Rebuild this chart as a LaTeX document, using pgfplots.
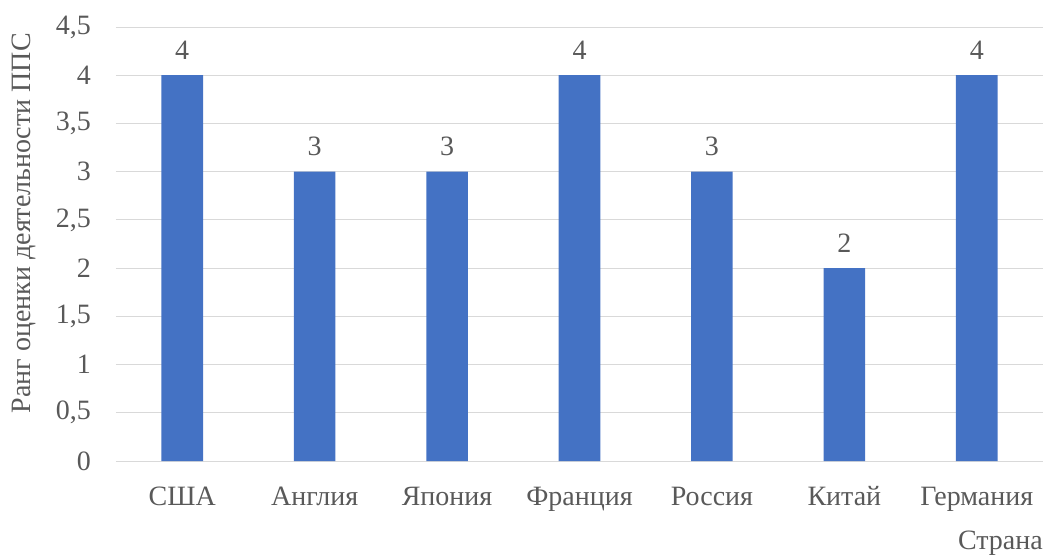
\documentclass[border=0pt]{standalone}
\usepackage{fontspec}
\setmainfont{Liberation Serif}
\usepackage{pgfplots}
\pgfplotsset{compat=1.18}
\definecolor{barblue}{HTML}{4472C4}
\definecolor{gridgray}{HTML}{D9D9D9}
\definecolor{txtgray}{HTML}{595959}
\begin{document}
\begin{tikzpicture}
\begin{axis}[
  name=ax,
  scale only axis,
  width=927bp, height=434bp,
  xmin=-0.5, xmax=6.5,
  ymin=0, ymax=4.5,
  ytick={0,0.5,...,4.5},
  xtick=data,
  xticklabels={США,Англия,Япония,Франция,Россия,Китай,Германия},
  /pgf/number format/use comma,
  /pgf/number format/assume math mode=true,
  axis line style={draw=none},
  major tick length=0pt,
  ymajorgrids,
  grid style={gridgray, line width=1bp},
  font=\fontsize{28bp}{32bp}\selectfont,
  every tick label/.append style={txtgray},
  yticklabel style={inner sep=0pt, anchor=east, xshift=-25bp},
  xticklabel style={inner sep=0pt, anchor=base, yshift=-44bp},
  ylabel={Ранг оценки деятельности ППС},
  ylabel style={txtgray, inner sep=0pt, at={(rel axis cs:0,0.548)}, anchor=south, yshift=80bp},
  xlabel={Страна},
  xlabel style={txtgray, inner sep=0pt, at={(rel axis cs:1,0)}, anchor=base east, yshift=-88bp},
  nodes near coords,
  nodes near coords style={txtgray, inner sep=0pt, anchor=base, yshift=16bp},
  point meta=explicit symbolic,
]
\addplot[ybar, bar width=41.6bp, fill=barblue, draw=none] table[meta=label] {
x y label
0 4 4
1 3 3
2 3 3
3 4 4
4 3 3
5 2 2
6 4 4
};
\end{axis}
\path[use as bounding box] ([xshift=-116bp,yshift=-93bp]ax.south west) rectangle ([xshift=3bp,yshift=27bp]ax.north east);
\end{tikzpicture}
\end{document}
